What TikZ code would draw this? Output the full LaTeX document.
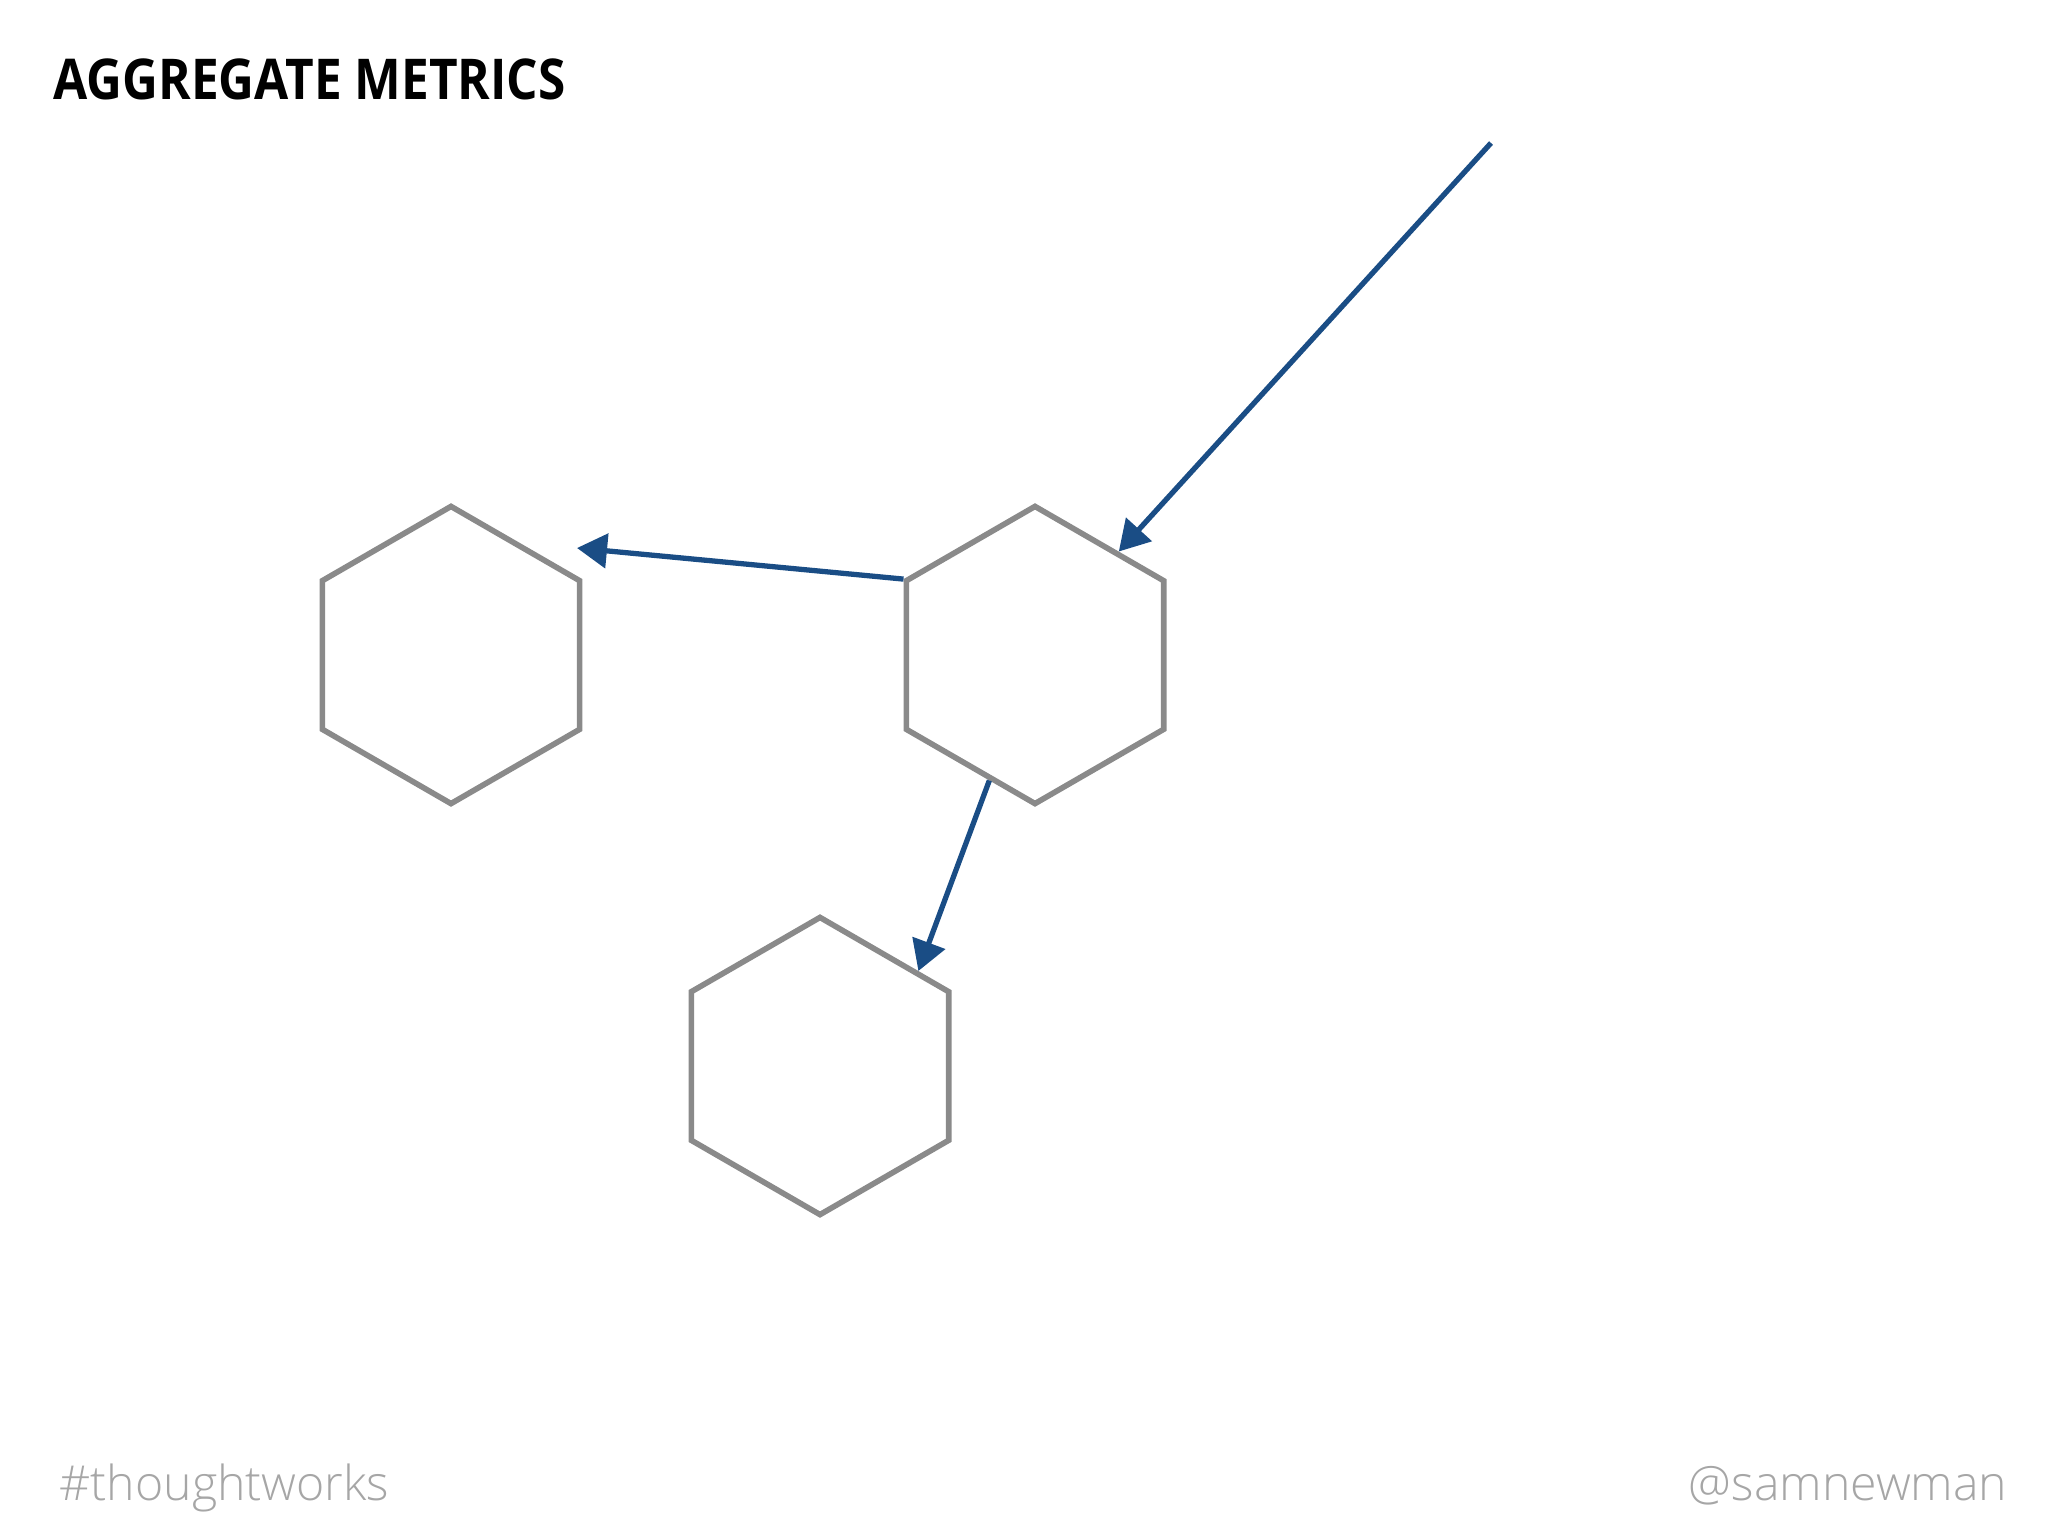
\documentclass[tikz,border=0pt]{standalone}
\usepackage{fontspec}
\usepackage{tikz}
\usetikzlibrary{shapes.geometric,arrows.meta}
\newfontfamily\titlefont{Open Sans}[FakeStretch=0.88]
\newfontfamily\footfont{Open Sans Light}
\definecolor{hexgray}{HTML}{8A8A8A}
\definecolor{arrowblue}{HTML}{1A4D85}
\definecolor{footgray}{HTML}{A6A6A6}
\tikzset{
  service/.style={draw=hexgray,line width=1.6pt,regular polygon,regular polygon sides=6,shape border rotate=30,minimum size=2.97cm,inner sep=0pt},
  call/.style={draw=arrowblue,line width=1.5pt,-{Triangle[length=0.3cm,width=0.34cm]}},
  footer/.style={font=\footfont\fontsize{13.7}{16}\selectfont,text=footgray,inner sep=0pt}
}

\begin{document}
\begin{tikzpicture}[x=0.01cm,y=-0.01cm]
  \useasboundingbox (0,0) rectangle (2048,1536);
  \node[anchor=base west,inner sep=0pt,font=\titlefont\bfseries\fontsize{16}{18}\selectfont] (title) at (53,99) {AGGREGATE METRICS};
  \foreach \name/\x/\y in {svcA/451/655, svcB/1035/655, svcC/820/1066} {\node[service] (\name) at (\x,\y) {}; }
  \coordinate (client) at (1491,143);
  \coordinate (out) at (577,548);
  \draw[call] (client) -- (svcB.51);
  \draw[call] (svcB.150) -- (out);
  \draw[call] (svcB.250) -- (svcC.44);
  \node[footer,anchor=base west] (tag) at (59,1500) {\#thoughtworks};
  \node[footer,anchor=base east] (handle) at (2008,1500) {@samnewman};
\end{tikzpicture}
\end{document}
